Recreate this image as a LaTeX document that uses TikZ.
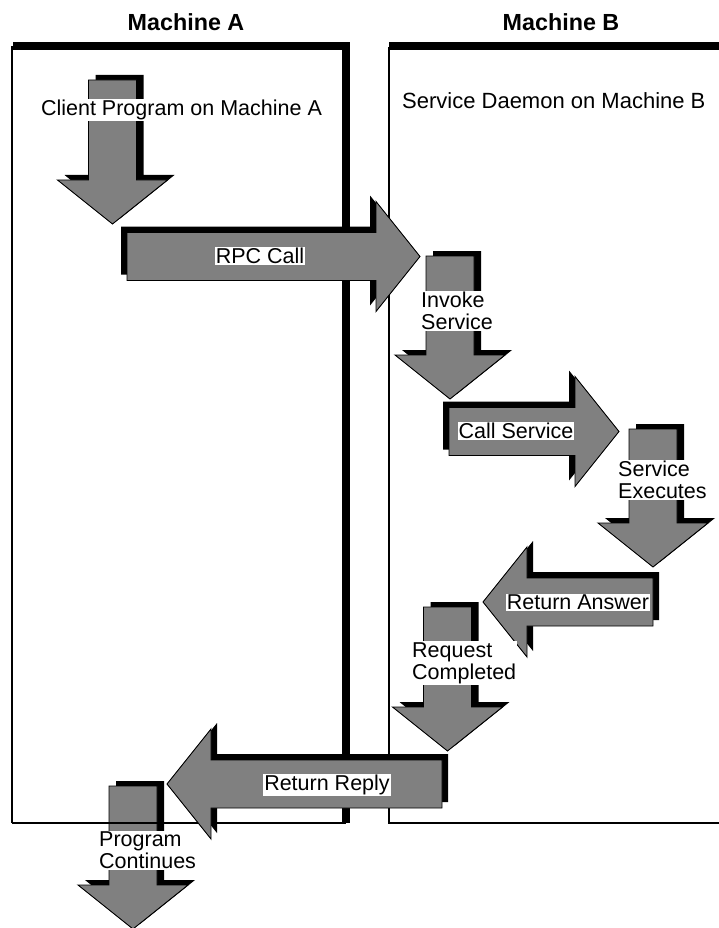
\documentclass[tikz,border=0pt]{standalone}
\usepackage{fontspec}
\setmainfont{Liberation Sans}
\definecolor{arrowgray}{HTML}{808080}
\tikzset{
  shad/.style={fill=black},
  blk/.style={fill=arrowgray, draw=black, line width=0.9pt, line join=miter},
  lbl/.style={fill=white, inner sep=1pt, font=\fontsize{21.5}{22}\selectfont, align=left},
  ttl/.style={font=\fontsize{23.3}{24}\selectfont\bfseries, inner sep=0pt},
  boxline/.style={line width=1.6pt}
}
% down arrow: centre x, top y, tip y
\newcommand{\dnarrow}[3]{%
  \begin{scope}[shift={(7,-5)}]
  \fill[shad] ({#1-24},#2) -- ({#1+24},#2) -- ({#1+24},{#3-44}) -- ({#1+55},{#3-44}) -- (#1,#3) -- ({#1-55},{#3-44}) -- ({#1-24},{#3-44}) -- cycle;
  \end{scope}
  \filldraw[blk] ({#1-24},#2) -- ({#1+24},#2) -- ({#1+24},{#3-44}) -- ({#1+55},{#3-44}) -- (#1,#3) -- ({#1-55},{#3-44}) -- ({#1-24},{#3-44}) -- cycle;
}
% right arrow: left x, centre y, tip x
\newcommand{\rtarrow}[3]{%
  \begin{scope}[shift={(-6,-6)}]
  \fill[shad] (#1,{#2-24}) -- ({#3-44},{#2-24}) -- ({#3-44},{#2-55}) -- (#3,#2) -- ({#3-44},{#2+55}) -- ({#3-44},{#2+24}) -- (#1,{#2+24}) -- cycle;
  \end{scope}
  \filldraw[blk] (#1,{#2-24}) -- ({#3-44},{#2-24}) -- ({#3-44},{#2-55}) -- (#3,#2) -- ({#3-44},{#2+55}) -- ({#3-44},{#2+24}) -- (#1,{#2+24}) -- cycle;
}
% left arrow: right x, centre y, tip x
\newcommand{\ltarrow}[3]{%
  \begin{scope}[shift={(6,-6)}]
  \fill[shad] (#1,{#2-24}) -- ({#3+44},{#2-24}) -- ({#3+44},{#2-55}) -- (#3,#2) -- ({#3+44},{#2+55}) -- ({#3+44},{#2+24}) -- (#1,{#2+24}) -- cycle;
  \end{scope}
  \filldraw[blk] (#1,{#2-24}) -- ({#3+44},{#2-24}) -- ({#3+44},{#2-55}) -- (#3,#2) -- ({#3+44},{#2+55}) -- ({#3+44},{#2+24}) -- (#1,{#2+24}) -- cycle;
}
\begin{document}
\begin{tikzpicture}[x=1pt,y=-1pt]
\fill[white] (0,0) rectangle (719,928);
\useasboundingbox (0,0) rectangle (719,928);

% titles
\node[ttl] (titleA) at (186,22) {Machine A};
\node[ttl] (titleB) at (561,22) {Machine B};

% program continues arrow (below box line)
\dnarrow{133}{786}{929}

% Machine A box
\draw[boxline] (12,823) -- (12,47) -- (346,47);
\draw[boxline] (12,823) -- (346,823);
\fill (13,42) rectangle (350,50);
\fill (342,42) rectangle (350,823);

% Machine B box
\draw[boxline] (719,823) -- (389,823) -- (389,47);
\fill (389,42) rectangle (719,50);

% arrows
\dnarrow{112.5}{80}{224}
\rtarrow{127}{256.5}{420}
\dnarrow{450}{256}{399}
\rtarrow{449}{431.5}{619}
\dnarrow{653}{429}{567}
\ltarrow{653}{602}{483}
\dnarrow{447.5}{607}{751}
\ltarrow{442}{784}{167}

% labels
\node[lbl] (client) at (181.5,110) {Client Program on Machine A};
\node[lbl, fill=none, anchor=west, font=\fontsize{22}{22}\selectfont] (daemon) at (401,101) {Service Daemon on Machine B};
\node[lbl] (rpc) at (260,256) {RPC Call};
\node[lbl, anchor=west] (invoke) at (420,311) {Invoke\\Service};
\node[lbl] (callsvc) at (516,431) {Call Service};
\node[lbl, anchor=west] (exec) at (617,480) {Service\\Executes};
\node[lbl] (retans) at (578,602) {Return Answer};
\node[lbl, anchor=west] (reqc) at (411,663) {Request\\Completed};
\node[lbl] (retrep) at (327,785) {Return Reply};
\node[lbl, anchor=west] (progc) at (98,850) {Program\\Continues};
\end{tikzpicture}
\end{document}
